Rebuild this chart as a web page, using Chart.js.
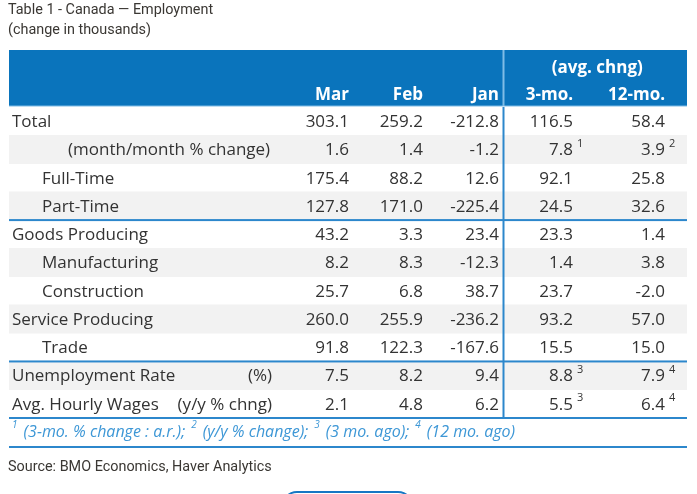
<!DOCTYPE html>
<html>
<head>
<meta charset="utf-8">
<script src="https://cdn.jsdelivr.net/npm/chart.js@4.4.1/dist/chart.umd.min.js"></script>
<style>
  body { margin: 0; background: #fff; }
  #page { position: relative; width: 697px; height: 494px; overflow: hidden; }
  #table { position: absolute; left: 0; top: 0; }
  .note { position: absolute; left: 8px; font-family: Roboto, sans-serif; font-size: 14.4px; color: #3a3733; white-space: nowrap; }
  .more { position: absolute; left: 281px; top: 491px; width: 129px; height: 30px; border: 2px solid #1677c4; border-radius: 16px; }
</style>
</head>
<body>
<div id="page">
  <canvas id="table" width="697" height="494"></canvas>
  <div class="note" style="top:1px">Table 1 - Canada — Employment</div>
  <div class="note" style="top:21px">(change in thousands)</div>
  <div class="note" style="top:458px">Source: BMO Economics, Haver Analytics</div>
  <div class="more"></div>
</div>
<script>
// rows of the table
const rowLabels = ["Total", "(month/month % change)", "Full-Time", "Part-Time", "Goods Producing",
    "Manufacturing", "Construction", "Service Producing", "Trade", "Unemployment Rate", "Avg. Hourly Wages"];
const rowUnits = ["", "", "", "", "", "", "", "", "", "(%)", "(y/y % chng)"];
const rowLevel = [0, 2, 1, 1, 0, 1, 1, 0, 1, 0, 0];
const groupEnds = [3, 8, 10];

const columns = ["Mar", "Feb", "Jan", "3-mo.", "12-mo."];
const avgHeader = "(avg. chng)";

const mar   = [303.1, 1.6, 175.4, 127.8, 43.2, 8.2, 25.7, 260.0, 91.8, 7.5, 2.1];
const feb   = [259.2, 1.4, 88.2, 171.0, 3.3, 8.3, 6.8, 255.9, 122.3, 8.2, 4.8];
const jan   = [-212.8, -1.2, 12.6, -225.4, 23.4, -12.3, 38.7, -236.2, -167.6, 9.4, 6.2];
const avg3  = [116.5, 7.8, 92.1, 24.5, 23.3, 1.4, 23.7, 93.2, 15.5, 8.8, 5.5];
const avg12 = [58.4, 3.9, 25.8, 32.6, 1.4, 3.8, -2.0, 57.0, 15.0, 7.9, 6.4];
const notes3  = ["", "1", "", "", "", "", "", "", "", "3", "3"];
const notes12 = ["", "2", "", "", "", "", "", "", "", "4", "4"];

const footnotes = [
    ["1", "(3-mo. % change : a.r.);"],
    ["2", "(y/y % change);"],
    ["3", "(3 mo. ago);"],
    ["4", "(12 mo. ago)"]
];

// layout of the table grid, in x-scale units (pixels from the table's left edge)
const TABLE_W = 678;
const colRight = [340, 414, 490, 564, 656];
const dividerX = 494.5;
const unitRight = 263;
const indent = [3, 33, 59];

const colors = {
    header: "#0a74bc",
    headerRule: "#7fbce6",
    rule: "#2c87cc",
    stripe: "#f2f2f2",
    text: "#333333",
    note: "#3d97d6"
};
const FONT = "'Open Sans', 'Noto Sans', sans-serif";

const valueCols = [mar, feb, jan, avg3, avg12];
const noteCols = [null, null, null, notes3, notes12];

const tableCells = {
    id: "tableCells",
    afterDatasetsDraw(chart) {
        const { ctx, chartArea, scales: { x, y } } = chart;
        const band = y.height / rowLabels.length;
        const left = x.getPixelForValue(0);
        const right = x.getPixelForValue(TABLE_W);
        const rowEdge = i => y.getPixelForValue(i) + band / 2;
        ctx.save();

        // header block
        const hTop = chartArea.top - 57;
        ctx.fillStyle = colors.header;
        ctx.fillRect(left, hTop, right - left, 56);
        ctx.fillStyle = colors.headerRule;
        ctx.fillRect(x.getPixelForValue(dividerX) - 1, hTop, 2, 56);
        ctx.fillRect(left, chartArea.top - 1.5, right - left, 1);

        ctx.fillStyle = "#ffffff";
        ctx.font = "bold 17px " + FONT;
        ctx.textBaseline = "middle";
        ctx.textAlign = "center";
        ctx.fillText(avgHeader, (x.getPixelForValue(dividerX) + right) / 2 + 2, chartArea.top - 39);
        ctx.textAlign = "right";
        columns.forEach((c, j) => ctx.fillText(c, x.getPixelForValue(colRight[j]), chartArea.top - 12));

        // row labels and cells
        rowLabels.forEach((label, i) => {
            const cy = y.getPixelForValue(i) + 1;
            ctx.fillStyle = colors.text;
            ctx.font = "17px " + FONT;
            ctx.textAlign = "left";
            ctx.fillText(label, x.getPixelForValue(indent[rowLevel[i]]), cy);
            if (rowUnits[i]) {
                ctx.textAlign = "right";
                ctx.fillText(rowUnits[i], x.getPixelForValue(unitRight), cy);
            }
            valueCols.forEach((vals, j) => {
                const px = x.getPixelForValue(colRight[j]);
                ctx.font = "17px " + FONT;
                ctx.textAlign = "right";
                ctx.fillText(vals[i].toFixed(1), px, cy);
                const n = noteCols[j] && noteCols[j][i];
                if (n) {
                    ctx.font = "11px " + FONT;
                    ctx.textAlign = "left";
                    ctx.fillText(n, px + 4, cy - 7);
                }
            });
        });

        // rules
        ctx.fillStyle = colors.rule;
        groupEnds.forEach(i => ctx.fillRect(left, rowEdge(i) - 1, right - left, 2));
        ctx.fillRect(x.getPixelForValue(dividerX) - 1, chartArea.top, 2, rowEdge(rowLabels.length - 1) - chartArea.top);

        // footnote line
        const fy = chartArea.bottom + 14;
        let fx = x.getPixelForValue(3);
        ctx.fillStyle = colors.note;
        ctx.textAlign = "left";
        footnotes.forEach(([sup, txt]) => {
            ctx.font = "italic 10px " + FONT;
            ctx.fillText(sup, fx, fy - 7);
            fx += ctx.measureText(sup).width + 6;
            ctx.font = "italic 16px " + FONT;
            ctx.fillText(txt, fx, fy);
            fx += ctx.measureText(txt).width + 6;
        });
        ctx.fillStyle = colors.rule;
        ctx.fillRect(left, chartArea.bottom + 28, right - left, 2);
        ctx.restore();
    }
};

new Chart(document.getElementById("table"), {
    type: "bar",
    data: {
        labels: rowLabels,
        datasets: [{
            data: rowLabels.map(() => [0, TABLE_W]),
            backgroundColor: rowLabels.map((_, i) => i % 2 ? colors.stripe : "rgba(0,0,0,0)"),
            borderWidth: 0,
            barPercentage: 1,
            categoryPercentage: 1
        }]
    },
    options: {
        indexAxis: "y",
        responsive: false,
        animation: false,
        events: [],
        layout: { padding: { left: 9, right: 10, top: 107, bottom: 76 } },
        scales: {
            x: { type: "linear", min: 0, max: TABLE_W, display: false },
            y: { display: false }
        },
        plugins: {
            legend: { display: false },
            tooltip: { enabled: false }
        }
    },
    plugins: [tableCells]
});
</script>
</body>
</html>
